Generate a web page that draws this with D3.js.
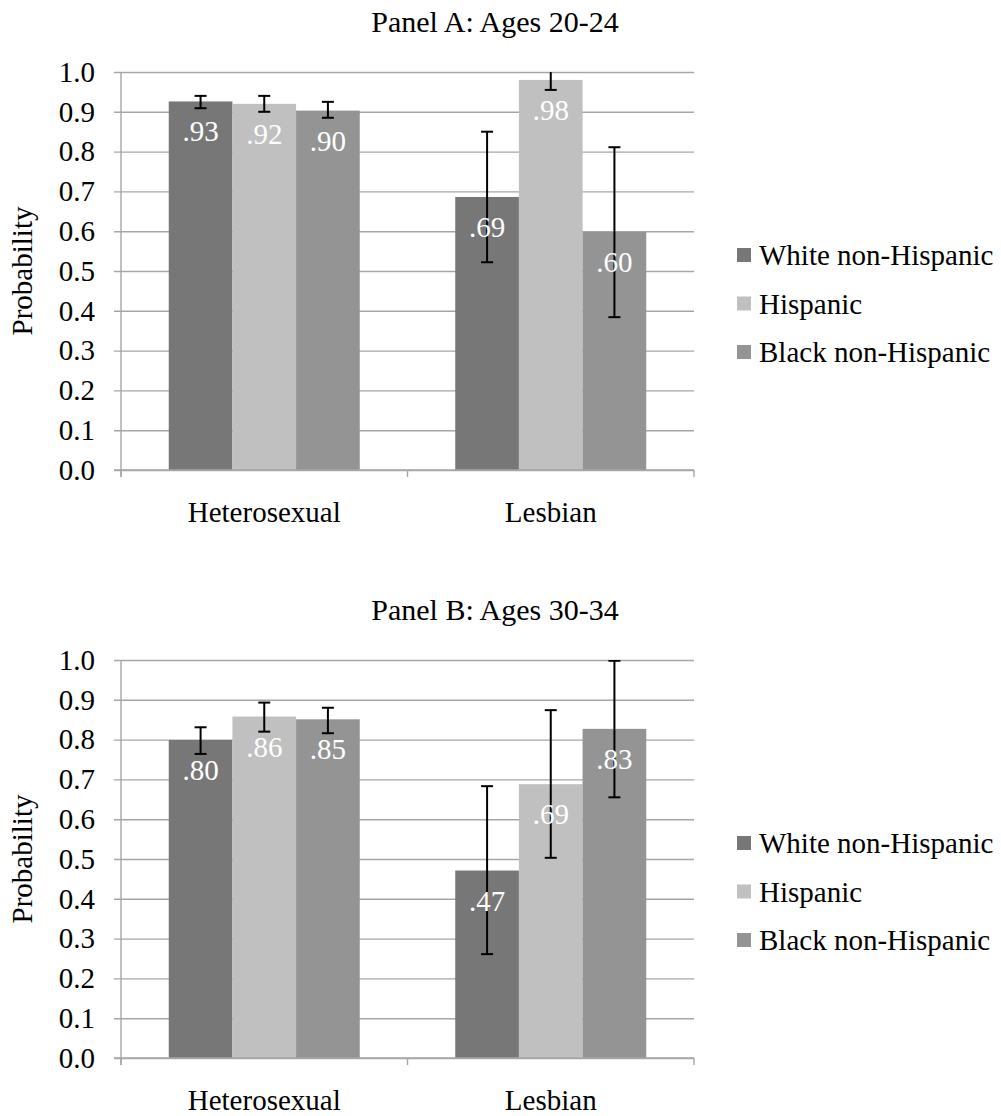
<!DOCTYPE html>
<html>
<head>
<meta charset="utf-8">
<script src="https://cdn.jsdelivr.net/npm/d3@7"></script>
<style>
  html, body { margin: 0; padding: 0; background: #fff; }
  svg { display: block; }
  svg text { font-family: "Liberation Serif", "Times New Roman", Times, "DejaVu Serif", "Noto Serif", serif !important; }
</style>
</head>
<body>
<svg id="chart" width="1001" height="1116"></svg>
<script>
// ---- Data ----
const categories = ["Heterosexual", "Lesbian"];
const series = ["White non-Hispanic", "Hispanic", "Black non-Hispanic"];
const seriesColors = ["#777777", "#c0c0c0", "#949494"];
const yTicks = [0, 0.1, 0.2, 0.3, 0.4, 0.5, 0.6, 0.7, 0.8, 0.9, 1.0];
const panelTitles = ["Panel A: Ages 20-24", "Panel B: Ages 30-34"];

// values[category][series]
const panelAValues = [[0.926, 0.920, 0.903], [0.686, 0.980, 0.598]];
const panelALow    = [[0.909, 0.900, 0.885], [0.522, 0.955, 0.384]];
const panelAHigh   = [[0.940, 0.940, 0.925], [0.850, 1.020, 0.811]];

const panelBValues = [[0.799, 0.858, 0.851], [0.471, 0.688, 0.827]];
const panelBLow    = [[0.764, 0.820, 0.816], [0.261, 0.503, 0.655]];
const panelBHigh   = [[0.831, 0.893, 0.880], [0.683, 0.874, 0.998]];

const panels = [
  { title: panelTitles[0], values: panelAValues, low: panelALow, high: panelAHigh },
  { title: panelTitles[1], values: panelBValues, low: panelBLow, high: panelBHigh }
];

// ---- Layout ----
const FONT = "'Liberation Serif', 'Times New Roman', Times, 'DejaVu Serif', serif";
const svg = d3.select("#chart").attr("font-family", FONT);
const plotLeft = 121, plotWidth = 573, plotTop = 72, plotHeight = 398;
const panelOffset = 588;
const gridColor = "#a6a6a6";
const fontSize = 29;

const x = d3.scaleBand().domain(categories).range([0, plotWidth])
  .paddingInner(1/3).paddingOuter(1/6);
const xs = d3.scaleBand().domain(series).range([0, x.bandwidth()]);
const y = d3.scaleLinear().domain([0, 1]).range([plotHeight, 0]);
const fmtLabel = v => d3.format(".2f")(v).replace(/^0/, "");

panels.forEach((p, pi) => {
  const top = plotTop + pi * panelOffset;
  const root = svg.append("g");

  // title
  root.append("text")
    .attr("x", 495).attr("y", top - 40)
    .attr("text-anchor", "middle")
    .attr("font-size", 30).attr("fill", "#000")
    .text(p.title);

  // y-axis title
  root.append("text")
    .attr("transform", `translate(32,${top + plotHeight / 2}) rotate(-90)`)
    .attr("text-anchor", "middle")
    .attr("font-size", fontSize).attr("fill", "#000")
    .text("Probability");

  const g = root.append("g").attr("transform", `translate(${plotLeft},${top})`);

  const clipId = "clip" + pi;
  g.append("clipPath").attr("id", clipId)
    .append("rect").attr("x", -10).attr("y", 0).attr("width", plotWidth + 20).attr("height", plotHeight + 10);

  // y axis with gridlines
  const yAxis = d3.axisLeft(y).tickValues(yTicks).tickFormat(d3.format(".1f"))
    .tickSize(-plotWidth).tickPadding(26);
  const ya = g.append("g").call(yAxis).attr("font-family", FONT).attr("font-size", fontSize);
  ya.select(".domain").remove();
  ya.selectAll(".tick line").attr("x1", -7).attr("stroke", gridColor).attr("stroke-width", 1.4);
  ya.selectAll(".tick text").attr("font-size", fontSize).attr("fill", "#000");

  // bars
  const groups = g.selectAll(".grp").data(categories).enter().append("g")
    .attr("transform", c => `translate(${x(c)},0)`);
  groups.each(function(c, ci) {
    const gg = d3.select(this);
    series.forEach((s, si) => {
      const v = p.values[ci][si];
      gg.append("rect")
        .attr("x", xs(s)).attr("width", xs.bandwidth())
        .attr("y", y(v)).attr("height", y(0) - y(v))
        .attr("fill", seriesColors[si]);
    });
  });

  // axes lines
  g.append("line").attr("x1", 0).attr("x2", 0).attr("y1", 0).attr("y2", plotHeight + 7)
    .attr("stroke", gridColor).attr("stroke-width", 1.4);
  g.append("line").attr("x1", -7).attr("x2", plotWidth).attr("y1", plotHeight).attr("y2", plotHeight)
    .attr("stroke", gridColor).attr("stroke-width", 1.4);
  d3.range(categories.length + 1).forEach(i => {
    const bx = Math.min(i * x.step(), plotWidth);
    g.append("line").attr("x1", bx).attr("x2", bx).attr("y1", plotHeight).attr("y2", plotHeight + 7)
      .attr("stroke", gridColor).attr("stroke-width", 1.4);
  });

  // error bars
  const eb = g.append("g").attr("clip-path", `url(#${clipId})`);
  categories.forEach((c, ci) => {
    series.forEach((s, si) => {
      const cx = x(c) + xs(s) + xs.bandwidth() / 2;
      const lo = y(p.low[ci][si]), hi = y(p.high[ci][si]);
      eb.append("line").attr("x1", cx).attr("x2", cx).attr("y1", lo).attr("y2", hi)
        .attr("stroke", "#000").attr("stroke-width", 2);
      [lo, hi].forEach(yy => {
        eb.append("line").attr("x1", cx - 6).attr("x2", cx + 6).attr("y1", yy).attr("y2", yy)
          .attr("stroke", "#000").attr("stroke-width", 2);
      });
    });
  });

  // data labels
  categories.forEach((c, ci) => {
    series.forEach((s, si) => {
      const v = p.values[ci][si];
      const cx = x(c) + xs(s) + xs.bandwidth() / 2;
      g.append("text")
        .attr("x", cx).attr("y", y(v) + 40)
        .attr("text-anchor", "middle")
        .attr("font-size", fontSize).attr("fill", "#fff")
        .text(fmtLabel(v));
    });
  });

  // category labels
  g.selectAll(".cat").data(categories).enter().append("text")
    .attr("x", c => x(c) + x.bandwidth() / 2)
    .attr("y", plotHeight + 52)
    .attr("text-anchor", "middle")
    .attr("font-size", fontSize).attr("fill", "#000")
    .text(c => c);

  // legend
  const lg = root.append("g").attr("transform", `translate(737,${top})`);
  series.forEach((s, si) => {
    const by = 193 + si * 48.5;
    lg.append("rect").attr("x", 0).attr("y", by - 17).attr("width", 14).attr("height", 14)
      .attr("fill", seriesColors[si]);
    lg.append("text").attr("x", 22).attr("y", by)
      .attr("font-size", fontSize).attr("fill", "#000")
      .text(s);
  });
});
</script>
</body>
</html>
